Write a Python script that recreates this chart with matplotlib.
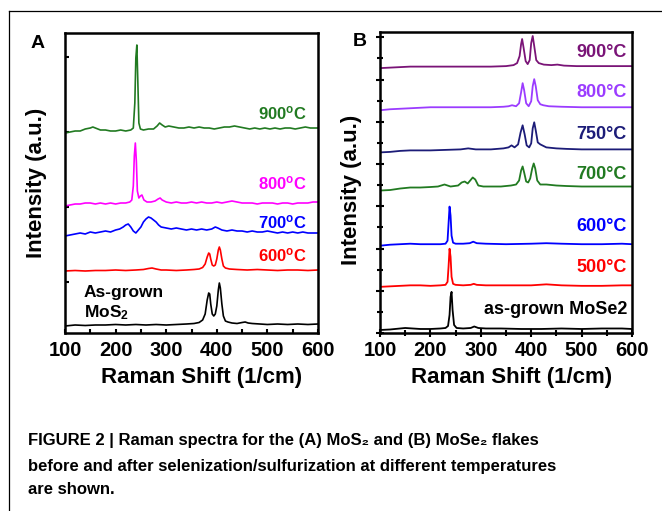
import matplotlib

matplotlib.use("Agg")
import matplotlib.pyplot as plt
from matplotlib.lines import Line2D
from matplotlib.ticker import MultipleLocator

plt.rcParams["font.family"] = ["Liberation Sans", "DejaVu Sans"]
plt.rcParams["font.weight"] = "bold"
plt.rcParams["mathtext.fontset"] = "custom"
plt.rcParams["mathtext.rm"] = "Liberation Sans:bold"
plt.rcParams["mathtext.bf"] = "Liberation Sans:bold"
plt.rcParams["mathtext.it"] = "Liberation Sans:bold:italic"

# ---- panel A: MoS2 (relative intensities) ----
A_black_x = [100, 120, 140, 160, 180, 200, 220, 240, 260, 280, 300, 320, 340, 355, 365, 372, 377, 381, 384, 386,
             388, 391, 394, 397, 400, 403, 405, 407, 410, 413, 417, 422, 430, 440, 450, 456, 462, 470, 485, 500,
             520, 540, 560, 580, 600]
A_black_y = [0, 1, 0.5, 1, 1, 1.5, 1, 1.5, 1, 1.5, 1, 1.5, 2, 2.5, 3.5, 6, 12, 26, 33, 32,
             22, 12, 10, 12, 20, 36, 43, 38, 22, 10, 5, 4, 3, 2.5, 3.5, 4, 3, 2.5, 2, 1.5,
             2, 1.5, 2, 1.5, 2]

A_red_x = [100, 120, 140, 160, 180, 200, 220, 240, 255, 265, 272, 280, 290, 300, 320, 340, 355, 365, 372, 377,
           381, 384, 386, 388, 391, 394, 397, 400, 403, 405, 407, 410, 413, 417, 425, 440, 460, 480, 500, 520,
           540, 560, 580, 600]
A_red_y = [0, 0.5, 0, 0.5, 0.5, 1, 0.5, 1, 1.5, 2.5, 3, 2, 1, 1, 0.5, 1, 1.5, 2, 3.5, 7,
           14, 18, 17, 12, 6, 5, 6, 12, 21, 24, 21, 12, 5, 3, 2, 1.5, 1, 1.5, 1, 0.5,
           1, 1, 0.5, 1]

A_blue_x = [100, 110, 120, 130, 140, 150, 160, 170, 180, 190, 200, 208, 215, 220, 225, 230, 235, 240, 245, 250,
            255, 260, 265, 270, 275, 280, 285, 290, 300, 310, 320, 330, 340, 350, 360, 370, 380, 390, 397, 402,
            410, 420, 430, 440, 450, 460, 470, 480, 490, 500, 510, 520, 530, 540, 550, 560, 570, 580, 590, 600]
A_blue_y = [0, 1, 2, 3, 2, 4, 3, 4, 5, 4, 6, 7, 9, 11, 12, 9, 5, 3, 6, 9,
            14, 17, 19, 18, 16, 14, 11, 9, 8, 7, 8, 7, 6, 7, 6, 7, 6, 7, 9, 8,
            6, 5, 6, 5, 5, 4, 5, 4, 4, 5, 4, 3, 4, 3, 4, 3, 4, 3, 3, 3]

A_mag_x = [100, 110, 120, 130, 140, 150, 160, 170, 180, 190, 200, 210, 220, 228, 232, 235, 237, 239, 241, 243,
           246, 249, 252, 256, 262, 270, 278, 284, 288, 292, 300, 310, 320, 330, 340, 350, 360, 370, 380, 390,
           400, 410, 420, 430, 440, 450, 460, 470, 480, 490, 500, 510, 520, 530, 540, 550, 560, 570, 580, 590, 600]
A_mag_y = [0, 1, 2, 2, 3, 3, 2, 3, 2, 3, 2, 3, 3, 4, 6, 20, 50, 63, 45, 15,
           8, 10, 11, 6, 4, 4, 5, 7, 8, 6, 4, 3, 4, 3, 3, 4, 3, 4, 3, 3,
           4, 3, 4, 5, 4, 3, 3, 3, 2, 3, 3, 3, 2, 3, 3, 2, 3, 3, 3, 4, 4]

A_grn_x = [100, 110, 120, 130, 140, 150, 155, 160, 170, 180, 190, 200, 210, 220, 230, 235, 238, 240, 242, 244,
           246, 249, 255, 265, 275, 282, 287, 292, 298, 305, 315, 325, 335, 345, 355, 365, 375, 385, 395, 405,
           415, 425, 435, 445, 455, 465, 475, 485, 495, 505, 515, 525, 535, 545, 555, 565, 575, 585, 595, 600]
A_grn_y = [0, 1, 2, 2, 4, 5, 6, 5, 3, 3, 2, 2, 3, 2, 3, 5, 30, 75, 88, 50,
           10, 4, 3, 4, 4, 7, 10, 8, 6, 7, 6, 5, 5, 6, 5, 6, 5, 5, 4, 5,
           6, 6, 7, 6, 5, 4, 5, 4, 5, 4, 5, 4, 5, 5, 4, 5, 6, 5, 5, 5]

A_offsets = [7, 62, 97, 127, 200]
A_colors = ["black", "#ff0000", "#0000ff", "#ff00ff", "#217a21"]
A_labels = ["", "600$^\\mathrm{o}$C", "700$^\\mathrm{o}$C", "800$^\\mathrm{o}$C", "900$^\\mathrm{o}$C"]
A_label_y = [0, 78, 111, 150, 220]

# ---- panel B: MoSe2 ----
B_k_x = [100, 120, 140, 150, 165, 180, 200, 220, 230, 235, 238, 240, 242, 244, 247, 252, 265, 280, 287, 295,
         310, 340, 380, 420, 460, 500, 540, 580, 600]
B_k_y = [0, 0.5, 1.5, 2, 1.5, 1, 1, 1.5, 2, 4, 15, 33, 38, 20, 5, 2, 1.5, 2, 3.5, 2,
         1.5, 1.5, 1, 1, 1.5, 1, 1.5, 1.5, 1]

B_r_x = [100, 120, 140, 160, 180, 200, 220, 230, 234, 236, 238, 240, 242, 245, 250, 265, 280, 286, 292, 310,
         350, 400, 430, 460, 500, 540, 580, 600]
B_r_y = [0, 0.5, 1, 1.5, 1.5, 1, 1.5, 2, 5, 20, 38, 30, 10, 3, 2, 1.5, 2, 3, 2, 1.5,
         1.5, 1.5, 2.5, 1.5, 1, 1, 1.5, 1.5]

B_b_x = [100, 120, 140, 160, 180, 200, 220, 230, 234, 236, 238, 240, 242, 245, 250, 265, 278, 285, 292, 310,
         350, 400, 430, 460, 500, 540, 580, 600]
B_b_y = [0, 1, 1.5, 2, 1.5, 1.5, 1.5, 2, 5, 22, 39, 30, 10, 3, 2, 2, 2.5, 4, 2.5, 2,
         1.5, 2, 2.5, 2, 1.5, 1.5, 2, 1.5]

B_g_x = [100, 120, 140, 160, 180, 200, 215, 228, 240, 255, 262, 268, 274, 279, 284, 289, 295, 305, 320, 340,
         360, 370, 376, 380, 383, 386, 390, 394, 398, 402, 405, 408, 412, 418, 430, 450, 470, 500, 540, 580, 600]
B_g_y = [0, 0.5, 2, 3, 3, 3.5, 4, 6, 4, 5, 8, 9, 7, 10, 13, 11, 5, 4, 4, 4,
         5, 6, 10, 20, 24, 18, 9, 8, 12, 22, 27, 22, 10, 6, 6, 5, 4.5, 4, 4, 4, 4]

B_n_x = [100, 120, 140, 160, 180, 200, 230, 260, 275, 290, 320, 345, 355, 361, 367, 374, 379, 383, 387, 391,
         396, 400, 403, 406, 409, 413, 418, 422, 430, 450, 470, 500, 540, 580, 600]
B_n_y = [0, 0.5, 1.5, 2, 2, 2, 2.5, 3, 4, 3, 3, 4, 5, 7, 5, 8, 20, 27, 18, 7,
         5, 9, 24, 30, 22, 10, 8, 7, 5, 4, 3.5, 3, 3, 3, 3]

B_v_x = [100, 120, 140, 160, 180, 200, 240, 280, 320, 345, 355, 362, 370, 376, 380, 383, 386, 390, 395, 400,
         403, 406, 409, 413, 418, 424, 435, 460, 500, 540, 580, 600]
B_v_y = [0, 1, 1.5, 2, 2.5, 3, 3, 3, 3, 3.5, 4, 5, 4, 7, 18, 27, 20, 7, 4, 9,
         24, 31, 24, 10, 6, 5, 4, 3.5, 3, 3, 3, 3]

B_p_x = [100, 120, 140, 160, 200, 240, 280, 320, 350, 365, 372, 377, 380, 382, 385, 389, 393, 397, 400, 403,
         406, 410, 415, 425, 440, 452, 465, 490, 530, 570, 600]
B_p_y = [0, 0.5, 1, 1.5, 1.5, 1.5, 1.5, 1.5, 2, 3, 5, 12, 24, 29, 20, 7, 4, 8, 25, 32,
         22, 8, 5, 3.5, 3, 3.5, 2.5, 2, 2, 2, 2]

B_offsets = [3, 46, 87, 142, 180, 222, 264]
B_colors = ["black", "#ff0000", "#0000ff", "#217a21", "#1c1c78", "#9b3cff", "#7a1477"]
B_labels = ["as-grown MoSe2", "500°C", "600°C", "700°C", "750°C", "800°C", "900°C"]
B_label_y = [23, 65, 106, 158, 198, 240, 280]

x_ticks = [100, 200, 300, 400, 500, 600]

W, H = 662, 511
fig = plt.figure(figsize=(W / 100, H / 100), dpi=100)


def px(x, y):
    return x / W, 1 - y / H


axA = fig.add_axes([65 / W, 1 - 333 / H, 253 / W, 300 / H])
axB = fig.add_axes([380 / W, 1 - 333 / H, 252 / W, 301 / H])

A_series = [(A_black_x, A_black_y), (A_red_x, A_red_y), (A_blue_x, A_blue_y),
            (A_mag_x, A_mag_y), (A_grn_x, A_grn_y)]
for (xs, ys), off, col, lab, ly in zip(A_series, A_offsets, A_colors, A_labels, A_label_y):
    axA.plot(xs, [v + off for v in ys], color=col, lw=1.2)
    if lab:
        axA.text(578, ly, lab, color=col, fontsize=12, fontweight="bold", ha="right", va="center")
axA.text(136, 41, "As-grown", fontsize=12.5, fontweight="bold", ha="left", va="center")
axA.text(137, 20, "MoS$_2$", fontsize=12.5, fontweight="bold", ha="left", va="center")

B_series = [(B_k_x, B_k_y), (B_r_x, B_r_y), (B_b_x, B_b_y), (B_g_x, B_g_y),
            (B_n_x, B_n_y), (B_v_x, B_v_y), (B_p_x, B_p_y)]
for (xs, ys), off, col, lab, ly in zip(B_series, B_offsets, B_colors, B_labels, B_label_y):
    axB.plot(xs, [v + off for v in ys], color=col, lw=1.3)
    axB.text(590, ly, lab, color=col, fontsize=13, fontweight="bold", ha="right", va="center")

for ax in (axA, axB):
    ax.set_xlim(100, 600)
    ax.set_ylim(0, 300)
    ax.set_xticks(x_ticks)
    ax.set_xticklabels([str(t) for t in x_ticks])
    ax.xaxis.set_minor_locator(MultipleLocator(50))
    for s in ax.spines.values():
        s.set_linewidth(1.8)
    ax.tick_params(labelsize=14.5, left=True, right=False, top=False, labelleft=False)

axA.set_yticks([51, 126, 201, 276])
axA.tick_params(which="both", direction="in", length=3, width=1.5, pad=5.5)

axB.set_yticks([0, 42.1, 84.2, 126.3, 168.4, 210.5, 252.6, 294.7])
axB.yaxis.set_minor_locator(MultipleLocator(21.05))
axB.tick_params(which="major", direction="inout", length=6, width=1.5, pad=3)
axB.tick_params(which="minor", direction="inout", length=4, width=1.5)

for ax in (axA, axB):
    for lbl in ax.get_xticklabels():
        lbl.set_fontweight("bold")

# axis labels
fig.text(*px(202, 378), "Raman Shift (1/cm)", fontsize=16, fontweight="bold", ha="center", va="center")
fig.text(*px(512, 378), "Raman Shift (1/cm)", fontsize=16, fontweight="bold", ha="center", va="center")
fig.text(*px(37, 183), "Intensity (a.u.)", fontsize=16, fontweight="bold", ha="center", va="center", rotation=90)
fig.text(*px(352, 190), "Intensity (a.u.)", fontsize=16, fontweight="bold", ha="center", va="center", rotation=90)

# panel letters
fig.text(*px(38, 43), "A", fontsize=14, fontweight="bold", ha="center", va="center")
fig.text(*px(360, 42), "B", fontsize=14, fontweight="bold", ha="center", va="center")

# frame lines around the figure block
fig.add_artist(Line2D([9 / W, 1], [1 - 11 / H, 1 - 11 / H], color="black", lw=0.9, transform=fig.transFigure))
fig.add_artist(Line2D([9 / W, 9 / W], [0, 1 - 11 / H], color="black", lw=0.9, transform=fig.transFigure))

# caption
caption = [
    "FIGURE 2 | Raman spectra for the (A) MoS₂ and (B) MoSe₂ flakes",
    "before and after selenization/sulfurization at different temperatures",
    "are shown.",
]
for line, y in zip(caption, [440, 466, 490]):
    fig.text(*px(28, y), line, fontsize=12, fontweight="bold", ha="left", va="center")

fig.savefig("out.png", dpi=100)
